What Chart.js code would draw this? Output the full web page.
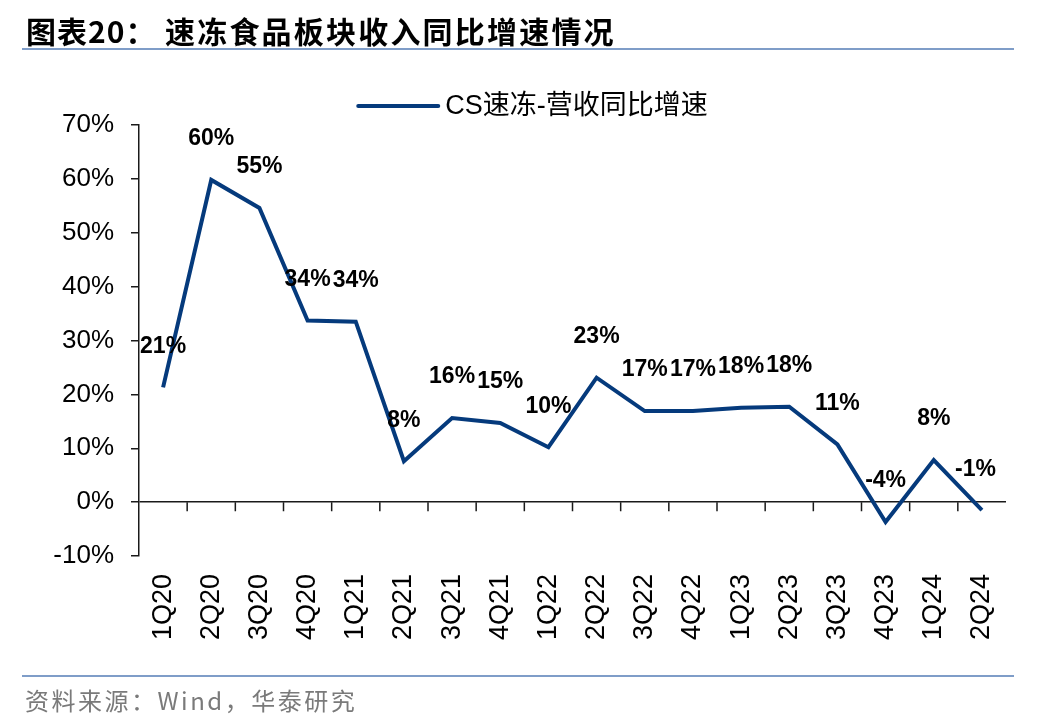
<!DOCTYPE html>
<html>
<head>
<meta charset="utf-8">
<script src="https://cdn.jsdelivr.net/npm/chart.js@4/dist/chart.umd.min.js"></script>
<style>
  html, body { margin: 0; padding: 0; background: #fff; }
  body { width: 1048px; height: 728px; position: relative; overflow: hidden; }
  #wrap { position: absolute; left: 0; top: 0; width: 1048px; height: 728px; }
  .t { position: absolute; white-space: nowrap; font-family: "Noto Sans CJK SC", "Liberation Sans", sans-serif; }
  #t1 { left: 26px; top: 10px; font-size: 30px; font-weight: 700; color: #000; line-height: 40px; letter-spacing: 1px; }
  #t2 { left: 165px; top: 10px; font-size: 30px; font-weight: 700; color: #000; line-height: 40px; letter-spacing: 2.2px; }
  #line1 { position: absolute; left: 22px; top: 48px; width: 992px; height: 2px; background: #7f9dc8; }
  #line2 { position: absolute; left: 22px; top: 675px; width: 992px; height: 2px; background: #7f9dc8; }
  #src { left: 25px; top: 684px; font-size: 24px; color: #7a7a7a; line-height: 32px; letter-spacing: 2.5px; }
</style>
</head>
<body>
<div id="wrap"><canvas id="c" width="1048" height="728"></canvas></div>
<div class="t" id="t1">图表20：</div>
<div class="t" id="t2">速冻食品板块收入同比增速情况</div>
<div id="line1"></div>
<div id="line2"></div>
<div class="t" id="src">资料来源：Wind，华泰研究</div>
<script>
const categories = ["1Q20","2Q20","3Q20","4Q20","1Q21","2Q21","3Q21","4Q21","1Q22","2Q22","3Q22","4Q22","1Q23","2Q23","3Q23","4Q23","1Q24","2Q24"];
const seriesName = "CS速冻-营收同比增速";
const growth = [21.3, 59.8, 54.6, 33.7, 33.5, 7.6, 15.6, 14.7, 10.2, 23.1, 16.9, 16.9, 17.5, 17.7, 10.7, -3.7, 7.8, -1.5];
const yMin = -10, yMax = 70, yStep = 10;

const LINE_COLOR = '#053a7c';
const AXIS_COLOR = '#1a1a1a';
const FONT_LATIN = '"Liberation Sans", Arial, sans-serif';

const zeroTicks = {
  id: 'zeroTicks',
  beforeDatasetsDraw(chart) {
    const x = chart.scales.x, y = chart.scales.y, ctx = chart.ctx;
    const y0 = y.getPixelForValue(0);
    ctx.save();
    ctx.strokeStyle = AXIS_COLOR;
    ctx.lineWidth = 1.5;
    ctx.beginPath();
    for (let i = 1; i < categories.length; i++) {
      const bx = (x.getPixelForValue(i - 1) + x.getPixelForValue(i)) / 2;
      ctx.moveTo(bx, y0);
      ctx.lineTo(bx, y0 + 9);
    }
    ctx.stroke();
    ctx.restore();
  }
};

const valueLabels = {
  id: 'valueLabels',
  afterDatasetsDraw(chart) {
    const ctx = chart.ctx, area = chart.chartArea;
    const meta = chart.getDatasetMeta(0);
    ctx.save();
    ctx.font = 'bold 23px ' + FONT_LATIN;
    ctx.fillStyle = '#000';
    ctx.textAlign = 'center';
    ctx.textBaseline = 'middle';
    meta.data.forEach((pt, i) => {
      const txt = Math.round(growth[i]) + '%';
      const w = ctx.measureText(txt).width;
      let cx = pt.x;
      if (cx + w / 2 > area.right - 10) cx = area.right - 10 - w / 2;
      ctx.fillText(txt, cx, pt.y - 41);
    });
    ctx.restore();
  }
};

const customLegend = {
  id: 'customLegend',
  afterDraw(chart) {
    const ctx = chart.ctx, area = chart.chartArea;
    const ds = chart.data.datasets[0];
    ctx.save();
    ctx.font = '27px ' + FONT_LATIN + ', "Noto Sans CJK SC"';
    const tw = ctx.measureText(ds.label).width;
    const boxW = 80, gap = 7;
    const total = boxW + gap + tw;
    const cx = 533;
    const cy = area.top - 19;
    const x0 = cx - total / 2;
    ctx.strokeStyle = ds.borderColor;
    ctx.lineWidth = 4;
    ctx.lineCap = 'round';
    ctx.beginPath();
    ctx.moveTo(x0, cy);
    ctx.lineTo(x0 + boxW, cy);
    ctx.stroke();
    ctx.fillStyle = '#000';
    ctx.textAlign = 'left';
    ctx.textBaseline = 'middle';
    ctx.fillText(ds.label, x0 + boxW + gap, cy + 1);
    ctx.restore();
  }
};

new Chart(document.getElementById('c'), {
  type: 'line',
  data: {
    labels: categories,
    datasets: [{
      label: seriesName,
      data: growth,
      borderColor: LINE_COLOR,
      backgroundColor: LINE_COLOR,
      borderWidth: 4,
      pointRadius: 0,
      tension: 0,
      fill: false
    }]
  },
  options: {
    responsive: false,
    animation: false,
    devicePixelRatio: 1,
    layout: { padding: { left: 20, right: 42, top: 125, bottom: 52 } },
    plugins: {
      legend: { display: false },
      tooltip: { enabled: false },
      title: { display: false }
    },
    scales: {
      x: {
        type: 'category',
        offset: true,
        grid: { display: false, drawTicks: false, tickLength: 0 },
        border: { display: false },
        ticks: {
          color: '#000',
          font: { family: FONT_LATIN, size: 27 },
          minRotation: 90,
          maxRotation: 90,
          padding: 18,
          autoSkip: false
        },
        afterFit(s) { s.height = 120; }
      },
      y: {
        min: yMin,
        max: yMax,
        ticks: {
          stepSize: yStep,
          color: '#000',
          font: { family: FONT_LATIN, size: 26 },
          padding: 17,
          callback: v => v + '%'
        },
        grid: {
          drawOnChartArea: true,
          drawTicks: true,
          tickLength: 8,
          lineWidth: 1.5,
          color: c => (c.tick && c.tick.value === 0) ? AXIS_COLOR : 'rgba(0,0,0,0)',
          tickColor: AXIS_COLOR
        },
        border: { display: true, color: AXIS_COLOR, width: 1.5 },
        afterFit(s) { s.width = 119; }
      }
    }
  },
  plugins: [zeroTicks, valueLabels, customLegend]
});
</script>
</body>
</html>
